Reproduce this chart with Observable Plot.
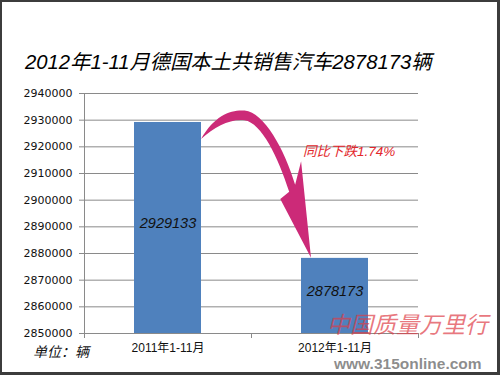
<!DOCTYPE html>
<html>
<head>
<meta charset="utf-8">
<script src="https://cdn.jsdelivr.net/npm/d3@7"></script>
<script src="https://cdn.jsdelivr.net/npm/@observablehq/plot@0.6"></script>
<style>
  html, body { margin: 0; padding: 0; background: #fff; }
  #wrap { position: relative; width: 500px; height: 375px; overflow: hidden; background: #fff; }
  #frame { position: absolute; left: 0; top: 0; width: 500px; height: 375px; box-sizing: border-box; border: 2px solid #3c3c3c; border-right-width: 3px; border-bottom-width: 3px; pointer-events: none; }
  #chart { position: absolute; left: 0; top: 0; }
  .title { position: absolute; left: 25px; top: 49px; font: italic 20.3px "Liberation Sans", "Noto Sans CJK SC", sans-serif; color: #000; white-space: nowrap; line-height: 26px; }
  .unit { position: absolute; left: 33px; top: 341px; font: italic 14px "Noto Sans CJK SC", sans-serif; color: #111; white-space: nowrap; line-height: 20px; }
  .wm1 { position: absolute; left: 327px; top: 308px; font: italic 23px "Noto Sans CJK SC", sans-serif; color: rgba(222, 60, 70, 0.7); white-space: nowrap; line-height: 30px; }
  .wm2 { position: absolute; left: 334px; top: 356px; font: bold 15.5px "Liberation Sans", sans-serif; color: rgba(120, 120, 120, 0.85); white-space: nowrap; line-height: 15px; }
</style>
</head>
<body>
<div id="wrap">
  <div id="chart"></div>
  <div class="title" id="title"></div>
  <div class="unit" id="unit"></div>
  <div class="wm1" id="wm1"></div>
  <div class="wm2" id="wm2"></div>
  <div id="frame"></div>
</div>
<script>
// ---- data ----
const categories = ["2011年1-11月", "2012年1-11月"];
const sales = [2929133, 2878173];
const yTicks = [2850000, 2860000, 2870000, 2880000, 2890000, 2900000, 2910000, 2920000, 2930000, 2940000];
const titleText = "2012年1-11月德国本土共销售汽车2878173辆";
const unitText = "单位：辆";
const changeText = "同比下跌1.74%";
const watermarkCn = "中国质量万里行";
const watermarkUrl = "www.315online.com";

const data = categories.map((c, i) => ({cat: c, value: sales[i]}));
const yMin = yTicks[0];
const yMax = yTicks[yTicks.length - 1];

document.getElementById("title").textContent = titleText;
document.getElementById("unit").textContent = unitText;
document.getElementById("wm1").textContent = watermarkCn;
document.getElementById("wm2").textContent = watermarkUrl;

const gridColor = "#8a8a8a";
const barInset = 50;

const plot = Plot.plot({
  width: 500,
  height: 375,
  marginLeft: 84,
  marginRight: 82,
  marginTop: 93,
  marginBottom: 42,
  style: {background: "transparent", fontFamily: "'Liberation Sans', 'Noto Sans CJK SC', sans-serif"},
  x: {domain: categories, padding: 0, label: null},
  y: {domain: [yMin, yMax], label: null},
  marks: [
    Plot.ruleY(yTicks, {stroke: gridColor, strokeWidth: 1}),
    Plot.barY(data, {x: "cat", y1: () => yMin, y2: "value", fill: "#4f81bd", insetLeft: barInset, insetRight: barInset}),
    Plot.text(data, {x: "cat", y: d => (d.value + yMin) / 2, text: d => String(d.value), dy: -5,
      fontSize: 14.5, fontStyle: "italic", fill: "#111", fontFamily: "'Liberation Sans', sans-serif"}),
    Plot.axisY(yTicks, {tickSize: 5, tickPadding: 7, tickFormat: d3.format("d"), stroke: gridColor,
      fontSize: 11, fill: "#111", fontFamily: "'DejaVu Sans', sans-serif", label: null}),
    Plot.axisX({tickSize: 0, tickPadding: 10, fontSize: 12, fill: "#111", label: null,
      fontFamily: "'Liberation Sans', 'Noto Sans CJK SC', sans-serif"})
  ]
});
document.getElementById("chart").appendChild(plot);

// ---- annotations drawn with the plot's own scales ----
const xs = plot.scale("x");
const ys = plot.scale("y");
const svg = d3.select(plot);
const bw = xs.bandwidth;
const x0 = xs.apply(categories[0]);
const x1 = xs.apply(categories[1]);
const yBase = ys.apply(yMin);
const yTop = ys.apply(yMax);
const xRight = x1 + bw;

const ann = svg.append("g");
// y axis line
ann.append("line").attr("x1", x0).attr("x2", x0).attr("y1", yTop).attr("y2", yBase)
  .attr("stroke", gridColor).attr("stroke-width", 1).attr("shape-rendering", "crispEdges");
// category boundary ticks
[x0, x1, xRight].forEach(x => {
  ann.append("line").attr("x1", x).attr("x2", x).attr("y1", yBase).attr("y2", yBase + 5)
    .attr("stroke", gridColor).attr("stroke-width", 1).attr("shape-rendering", "crispEdges");
});

// curved arrow from bar 1 to bar 2
const sx = x0 + bw - barInset;           // right edge of bar 1
const sy = ys.apply(sales[0]) + 17;
const tx = x1 + barInset + 10;           // near left of bar 2
const ty = ys.apply(sales[1]);
const kx = (tx - sx) / 111, ky = (ty - sy) / 117;
const P = (dx, dy) => `${sx + dx * kx},${sy + dy * ky}`;
const arrowPath = [
  "M", P(0, 0),
  "C", P(14, -24), P(31, -29), P(44, -28),
  "C", P(64, -26), P(84, 10), P(95, 45),
  "L", P(101, 22),
  "L", P(111, 117),
  "L", P(80, 59),
  "L", P(89, 52),
  "C", P(78, 18), P(61, -16), P(44, -18.5),
  "C", P(29, -20), P(14, -12), P(0, 0),
  "Z"
].join(" ");
ann.append("path").attr("d", arrowPath).attr("fill", "#cc2a78");

// change label
ann.append("text").attr("x", sx + 102).attr("y", sy + 17)
  .attr("text-anchor", "start")
  .attr("font-family", "'Liberation Sans', 'Noto Sans CJK SC', sans-serif")
  .attr("font-size", 13.5).attr("font-style", "italic").attr("fill", "#e3262b")
  .text(changeText);
</script>
</body>
</html>
